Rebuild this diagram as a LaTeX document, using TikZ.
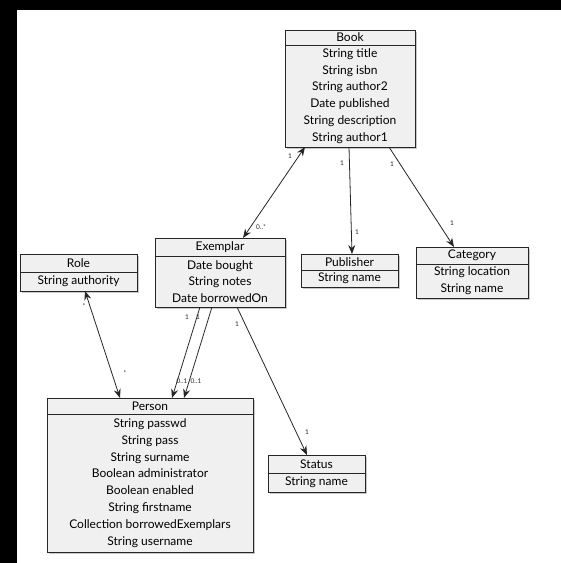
\documentclass[tikz,border=0pt]{standalone}
\usepackage{fontspec}
\setmainfont{Lato}
\usetikzlibrary{arrows.meta,shadows}
\tikzset{
  x=1pt, y=-1pt,
  uml/.style={draw=black!85, line width=0.9pt, fill=black!6, inner sep=0pt, outer sep=0pt,
    anchor=north west, align=center,
    font=\fontsize{12}{16.8}\selectfont,
    drop shadow={shadow xshift=1.5pt, shadow yshift=-1.5pt, opacity=0.35, fill=black!60}},
  umlbody/.style={uml, anchor=north},
  link/.style={draw=black!85, line width=0.8pt, >={Stealth[length=9pt, width=7pt, inset=3pt]}},
  mult/.style={font=\fontsize{6.5}{7}\selectfont, inner sep=1pt, text=black!85},
}
\begin{document}
\begin{tikzpicture}
  % frame
  \useasboundingbox (0,0) rectangle (561,563);
  \fill[black] (0,0) rectangle (561,563);
  \fill[white] (17,10) rectangle (561,563);

  % classes
  \node[uml, minimum width=130pt, minimum height=15pt] (book) at (285,30) {Book};
  \node[umlbody, minimum width=130pt, minimum height=102pt] (bookb) at (book.south)
    {String title\\String isbn\\String author2\\Date published\\String description\\String author1};

  \node[uml, minimum width=130pt, minimum height=18pt] (ex) at (155,238) {Exemplar};
  \node[umlbody, minimum width=130pt, minimum height=51pt] (exb) at (ex.south)
    {Date bought\\String notes\\Date borrowedOn};

  \node[uml, minimum width=117pt, minimum height=18pt] (role) at (20,254) {Role};
  \node[umlbody, minimum width=117pt, minimum height=19pt] (roleb) at (role.south)
    {String authority};

  \node[uml, minimum width=97pt, minimum height=16pt] (pub) at (301,254) {Publisher};
  \node[umlbody, minimum width=97pt, minimum height=17pt] (pubb) at (pub.south)
    {String name};

  \node[uml, minimum width=112pt, minimum height=17pt] (cat) at (416,247) {Category};
  \node[umlbody, minimum width=112pt, minimum height=34pt] (catb) at (cat.south)
    {String location\\String name};

  \node[uml, minimum width=206pt, minimum height=16pt] (person) at (47,398) {Person};
  \node[umlbody, minimum width=206pt, minimum height=138pt] (personb) at (person.south)
    {String passwd\\String pass\\String surname\\Boolean administrator\\Boolean enabled\\String firstname\\Collection borrowedExemplars\\String username};

  \node[uml, minimum width=97pt, minimum height=18pt] (status) at (268,455) {Status};
  \node[umlbody, minimum width=97pt, minimum height=19pt] (statusb) at (status.south)
    {String name};

  % associations
  \draw[link, <->] ([xshift=20pt]bookb.south west) -- ([xshift=88pt]ex.north west);
  \draw[link, ->] ([xshift=64pt]bookb.south west) -- ([xshift=51pt]pub.north west);
  \draw[link, ->] ([xshift=104pt]bookb.south west) -- ([xshift=38pt]cat.north west);
  \draw[link, <->] ([xshift=65pt]roleb.south west) -- ([xshift=73pt]person.north west);
  \draw[link, ->] ([xshift=45pt]exb.south west) -- ([xshift=125pt]person.north west);
  \draw[link, ->] ([xshift=57pt]exb.south west) -- ([xshift=137pt]person.north west);
  \draw[link, ->] ([xshift=82pt]exb.south west) -- ([xshift=39pt]status.north west);

  % multiplicities
  \node[mult] (m1) at (290,156) {1};
  \node[mult] (m2) at (261,227) {0..*};
  \node[mult] (m3) at (342,163) {1};
  \node[mult] (m4) at (357,232) {1};
  \node[mult] (m5) at (392,164) {1};
  \node[mult] (m6) at (452,223) {1};
  \node[mult] (m7) at (84,306) {*};
  \node[mult] (m8) at (125,373) {*};
  \node[mult] (m9) at (187,317) {1};
  \node[mult] (m10) at (198,317) {1};
  \node[mult] (m11) at (182,381) {0..1};
  \node[mult] (m12) at (196,381) {0..1};
  \node[mult] (m13) at (237,324) {1};
  \node[mult] (m14) at (307,432) {1};
\end{tikzpicture}
\end{document}
